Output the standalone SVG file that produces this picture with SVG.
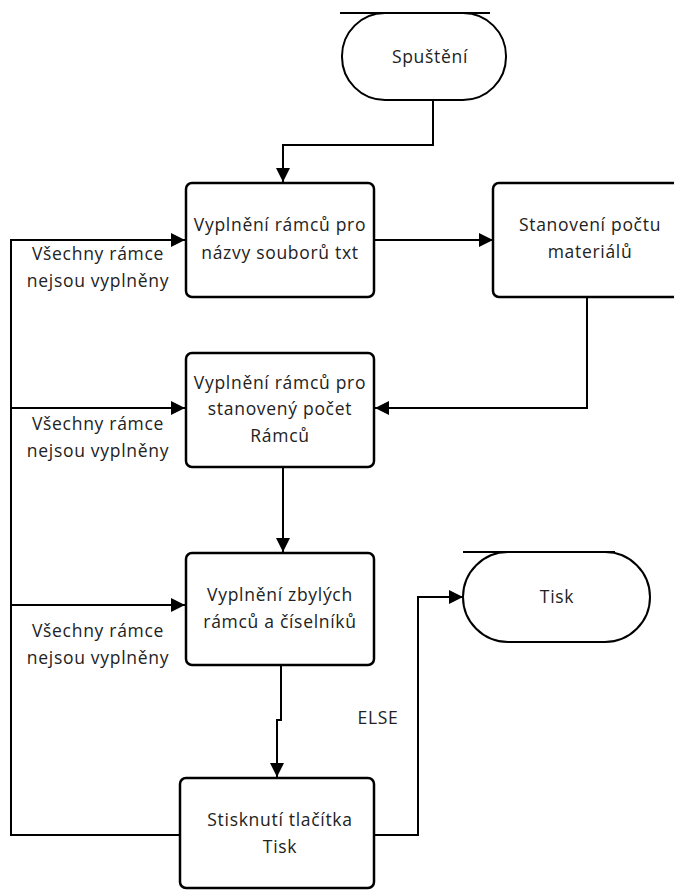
<svg xmlns="http://www.w3.org/2000/svg" width="674" height="891" viewBox="0 0 674 891">
<defs>
<marker id="ah" viewBox="0 0 10 10" refX="10" refY="5" markerWidth="14" markerHeight="14" markerUnits="userSpaceOnUse" orient="auto">
<path d="M0,0 L10,5 L0,10 Z" fill="#000"/>
</marker>
<style>
.box{fill:#fff;stroke:#000;stroke-width:2.5}
.term{fill:#fff;stroke:#000;stroke-width:2}
.ln{fill:none;stroke:#000;stroke-width:2}
text{font-family:"Open Sans","DejaVu Sans",sans-serif;font-size:17.5px;fill:#222;text-anchor:middle;letter-spacing:0.7px}
</style>
</defs>
<rect width="674" height="891" fill="#fff"/>
<g id="connectors">
<polyline class="ln" points="433,100 433,145 283,145 283,182" marker-end="url(#ah)"/>
<line class="ln" x1="374" y1="240" x2="493" y2="240" marker-end="url(#ah)"/>
<polyline class="ln" points="587,297 587,408 375,408" marker-end="url(#ah)"/>
<line class="ln" x1="283" y1="467" x2="283" y2="552" marker-end="url(#ah)"/>
<polyline class="ln" points="281,665 281,720 277,720 277,777" marker-end="url(#ah)"/>
<polyline class="ln" points="374,835 418,835 418,597 463,597" marker-end="url(#ah)"/>
<polyline class="ln" points="180,835 11,835 11,240 185,240" marker-end="url(#ah)"/>
<line class="ln" x1="11" y1="408" x2="185" y2="408" marker-end="url(#ah)"/>
<line class="ln" x1="11" y1="605" x2="185" y2="605" marker-end="url(#ah)"/>
<text x="98" y="260">Všechny rámce</text>
<text x="98" y="287">nejsou vyplněny</text>
<text x="98" y="430">Všechny rámce</text>
<text x="98" y="457">nejsou vyplněny</text>
<text x="98" y="637">Všechny rámce</text>
<text x="98" y="664">nejsou vyplněny</text>
<text x="378" y="724">ELSE</text>
</g>
<g id="start">
<line class="term" x1="340" y1="13" x2="490" y2="13"/>
<rect class="term" x="342" y="13" width="164" height="87" rx="43" ry="43"/>
<text x="430" y="63">Spuštění</text>
</g>
<g id="box1">
<rect class="box" x="186" y="183" width="188" height="114" rx="6"/>
<text x="280" y="231">Vyplnění rámců pro</text>
<text x="280" y="259">názvy souborů txt</text>
</g>
<g id="box2">
<rect class="box" x="493" y="183" width="190" height="114" rx="6"/>
<text x="590" y="231">Stanovení počtu</text>
<text x="590" y="258">materiálů</text>
</g>
<g id="box3">
<rect class="box" x="186" y="353" width="188" height="114" rx="6"/>
<text x="280" y="389">Vyplnění rámců pro</text>
<text x="280" y="415">stanovený počet</text>
<text x="280" y="442">Rámců</text>
</g>
<g id="box4">
<rect class="box" x="186" y="553" width="188" height="112" rx="6"/>
<text x="280" y="601">Vyplnění zbylých</text>
<text x="280" y="628">rámců a číselníků</text>
</g>
<g id="box5">
<rect class="box" x="180" y="778" width="194" height="110" rx="6"/>
<text x="280" y="826">Stisknutí tlačítka</text>
<text x="280" y="853">Tisk</text>
</g>
<g id="end">
<line class="term" x1="463" y1="552" x2="615" y2="552"/>
<rect class="term" x="463" y="552" width="187" height="90" rx="45" ry="45"/>
<text x="557" y="603">Tisk</text>
</g>
</svg>
